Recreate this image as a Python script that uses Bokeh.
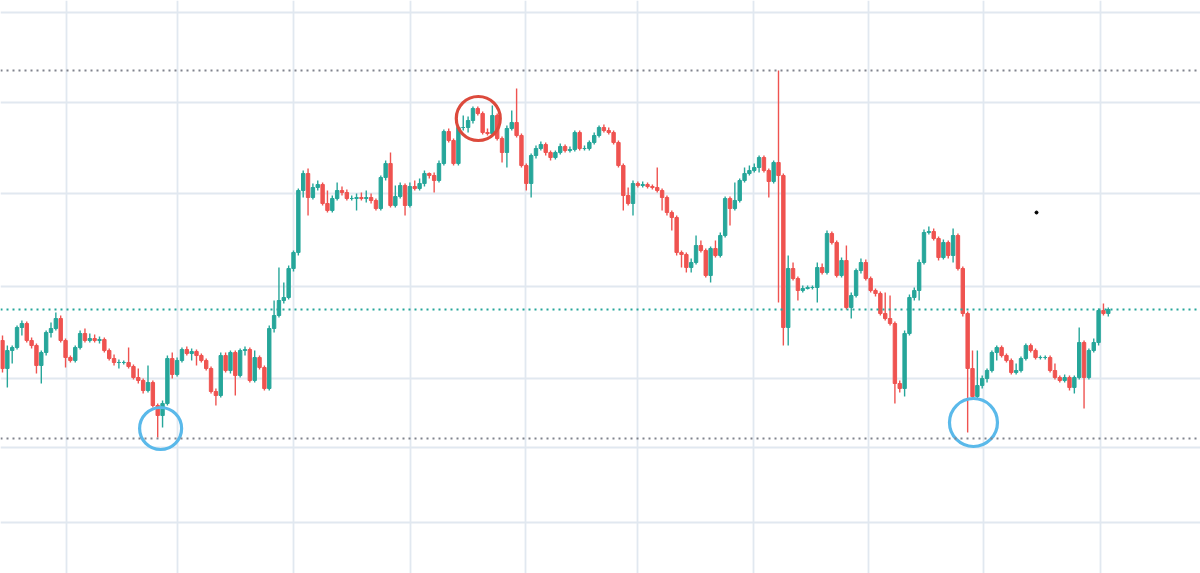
from bokeh.plotting import figure
from bokeh.models import Range1d, FixedTicker, Span, ColumnDataSource
from bokeh.embed import file_html
from bokeh.resources import INLINE

# ---------------- data (price units) ----------------
first_open = 260

close = [232, 250, 253, 273, 277, 260, 255, 235, 248, 268, 272, 282, 260, 243, 240, 253, 267, 260, 262, 260,
         261, 250, 242, 238, 238, 238, 234, 223, 220, 210, 218, 195, 185, 197, 242, 226, 240, 251, 247, 249,
         245, 240, 232, 209, 205, 245, 230, 248, 225, 250, 251, 220, 243, 233, 212, 272, 285, 300, 303, 332,
         348, 410, 427, 403, 413, 416, 397, 390, 402, 410, 408, 402, 402, 403, 402, 403, 400, 392, 423, 437,
         395, 404, 415, 395, 414, 412, 417, 427, 425, 420, 437, 469, 460, 437, 473, 473, 480, 492, 487, 468,
         467, 485, 462, 448, 472, 478, 465, 435, 417, 445, 452, 456, 448, 443, 448, 454, 450, 451, 468, 452,
         452, 458, 465, 473, 470, 468, 458, 435, 405, 397, 417, 415, 416, 414, 413, 410, 403, 388, 383, 348,
         346, 333, 338, 355, 350, 325, 352, 345, 365, 402, 392, 400, 420, 427, 430, 433, 443, 430, 419, 438,
         425, 273, 332, 322, 310, 312, 313, 313, 333, 328, 367, 358, 325, 340, 293, 305, 330, 338, 322, 310,
         307, 287, 282, 277, 217, 212, 267, 303, 310, 338, 368, 369, 362, 343, 358, 345, 365, 332, 287, 232,
         204, 215, 222, 230, 248, 253, 245, 240, 228, 230, 242, 255, 250, 243, 243, 243, 230, 223, 220, 223,
         213, 223, 258, 223, 250, 258, 290, 287, 291]

high = [265, 255, 255, 275, 280, 279, 263, 257, 250, 270, 278, 288, 285, 262, 245, 255, 270, 272, 267, 266,
        264, 263, 252, 246, 241, 240, 253, 236, 232, 222, 235, 220, 197, 200, 245, 248, 243, 253, 254, 252,
        251, 247, 242, 234, 212, 248, 248, 250, 250, 252, 254, 253, 250, 245, 235, 275, 300, 333, 318, 335,
        350, 412, 430, 432, 417, 420, 418, 410, 405, 418, 414, 411, 405, 407, 408, 410, 407, 402, 425, 440,
        448, 415, 418, 417, 418, 420, 422, 430, 428, 428, 440, 471, 472, 462, 475, 485, 484, 494, 494, 489,
        472, 495, 487, 464, 475, 490, 512, 467, 437, 447, 455, 459, 458, 450, 450, 457, 456, 454, 470, 470,
        455, 460, 468, 475, 476, 473, 470, 460, 437, 413, 420, 419, 419, 418, 416, 433, 412, 405, 390, 385,
        350, 348, 342, 365, 360, 352, 354, 360, 368, 404, 404, 418, 422, 433, 435, 437, 445, 445, 432, 440,
        530, 427, 345, 338, 324, 315, 315, 315, 338, 337, 370, 369, 360, 343, 355, 308, 332, 342, 341, 324,
        312, 309, 308, 305, 279, 220, 270, 306, 313, 341, 371, 374, 372, 364, 361, 360, 372, 367, 334, 289,
        250, 250, 225, 232, 250, 255, 255, 247, 242, 237, 244, 257, 257, 252, 245, 245, 245, 237, 225, 226,
        225, 225, 273, 260, 252, 262, 292, 297, 293]

low = [228, 213, 237, 251, 265, 258, 252, 227, 217, 245, 263, 270, 258, 233, 238, 238, 251, 258, 258, 258,
       257, 248, 240, 235, 232, 236, 232, 221, 217, 207, 208, 193, 163, 173, 195, 222, 224, 238, 245, 240,
       235, 238, 230, 207, 195, 203, 228, 227, 205, 223, 245, 218, 218, 231, 210, 210, 268, 283, 297, 301,
       329, 345, 403, 385, 401, 410, 395, 388, 388, 400, 405, 400, 400, 390, 400, 398, 397, 390, 390, 420,
       393, 393, 402, 385, 393, 410, 410, 414, 422, 408, 418, 435, 458, 435, 435, 470, 468, 477, 485, 466,
       465, 465, 460, 438, 433, 470, 463, 433, 410, 403, 442, 450, 445, 440, 441, 446, 448, 448, 449, 450,
       450, 450, 456, 463, 468, 466, 456, 433, 390, 395, 385, 413, 413, 412, 411, 408, 390, 385, 370, 345,
       333, 328, 328, 336, 348, 323, 318, 343, 343, 363, 375, 390, 398, 418, 425, 428, 428, 428, 403, 417,
       298, 255, 255, 320, 300, 308, 311, 311, 298, 326, 326, 356, 323, 323, 291, 282, 303, 327, 320, 308,
       304, 285, 280, 275, 197, 208, 204, 265, 300, 300, 336, 366, 360, 340, 341, 342, 338, 330, 284, 168,
       202, 202, 212, 218, 228, 240, 243, 238, 226, 226, 228, 240, 248, 241, 241, 241, 228, 221, 218, 218,
       210, 207, 221, 192, 221, 248, 255, 285, 284]

levels_gray = [530, 162]          # horizontal dotted levels
circle_idx = [32.6, 98.1, 200.2]   # highlighted candles
circle_price = [172, 482, 178]
circle_color = ["#5ab9ea", "#dc4a3c", "#5ab9ea"]
circle_size = [42, 44, 48]
dot_idx = [213.2]
dot_price = [388]

# grid positions
xgrid_ticks = [13.2, 36.1, 60.0, 84.1, 107.8, 130.9, 154.8, 178.6, 202.3, 226.4]
ygrid_ticks = [588, 498, 407, 314, 222, 153, 78]

# ---------------- build ----------------
UP = "#26a69a"
DOWN = "#ef5350"

n = len(close)
opens = [first_open] + close[:-1]
idx = list(range(n))
hi = [max(h, o, c) for h, o, c in zip(high, opens, close)]
lo = [min(l, o, c) for l, o, c in zip(low, opens, close)]
colors = [UP if c >= o else DOWN for o, c in zip(opens, close)]
top = [max(o, c) for o, c in zip(opens, close)]
bot = [min(o, c) for o, c in zip(opens, close)]

src = ColumnDataSource(dict(x=idx, hi=hi, lo=lo, top=top, bot=bot, color=colors))

spacing = 4.85
p = figure(width=1200, height=573, output_backend="svg", toolbar_location=None,
           x_range=Range1d((0 - 2) / spacing, (1200 - 2) / spacing),
           y_range=Range1d(27, 600), min_border=0,
           background_fill_color="white", border_fill_color="white")
p.outline_line_color = None
p.xaxis.visible = False
p.yaxis.visible = False
p.xgrid.ticker = FixedTicker(ticks=xgrid_ticks)
p.ygrid.ticker = FixedTicker(ticks=ygrid_ticks)
for g in (p.xgrid, p.ygrid):
    g.grid_line_color = "#e1e8f0"
    g.grid_line_width = 1.8

for lv in levels_gray:
    p.add_layout(Span(location=lv, dimension="width", line_color="#80838d",
                      line_dash="2 4", line_width=2))
p.add_layout(Span(location=close[-1], dimension="width", line_color=UP,
                  line_dash="2 4", line_width=2))

p.segment(x0="x", x1="x", y0="lo", y1="hi", color="color", line_width=1.4, source=src)
p.vbar(x="x", width=0.7, top="top", bottom="bot", fill_color="color",
       line_color="color", line_width=1, source=src)

p.scatter(x=circle_idx, y=circle_price, size=circle_size, marker="circle",
          fill_alpha=0, line_color=circle_color, line_width=3.2)
p.scatter(x=dot_idx, y=dot_price, size=3, marker="circle", color="black")

open("out.html", "w").write(file_html(p, INLINE))
